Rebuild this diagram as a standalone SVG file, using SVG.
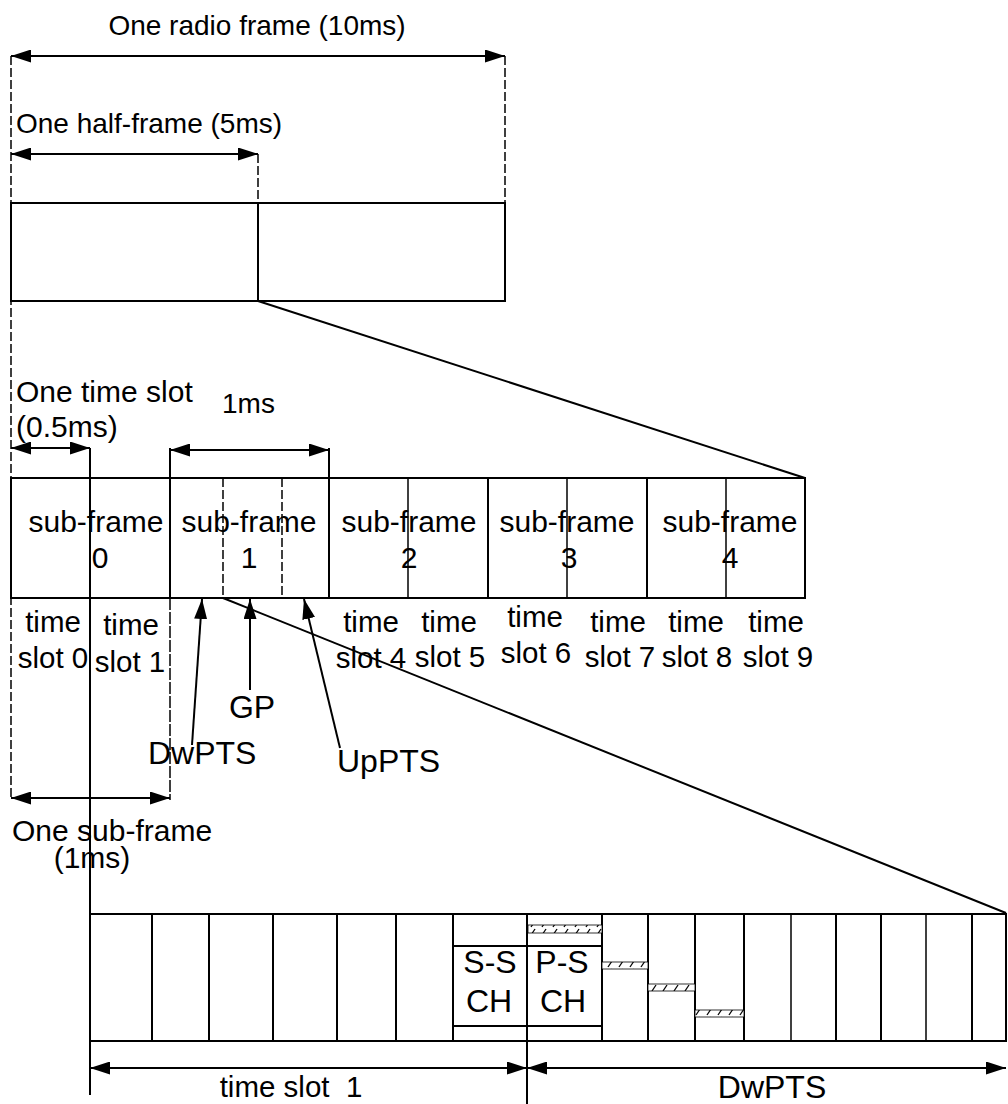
<svg xmlns="http://www.w3.org/2000/svg" width="1008" height="1104" viewBox="0 0 1008 1104">
<style>
  text { font-family: "Liberation Sans", Arial, sans-serif; font-size: 28px; fill: #000; }
  .c { text-anchor: middle; }
  .f30 { font-size: 30px; }
  .f29 { font-size: 29.5px; }
  .f32 { font-size: 32px; }
  .ln { stroke: #000; stroke-width: 2; fill: none; }
  .thin { stroke: #000; stroke-width: 1.5; fill: none; }
  .dash { stroke: #000; stroke-width: 1.5; fill: none; stroke-dasharray: 9 3; }
  .dim { stroke: #000; stroke-width: 2; fill: none; marker-start: url(#ah); marker-end: url(#ah); }
  .ptr { stroke: #000; stroke-width: 2; fill: none; marker-end: url(#ah); }
  .box { stroke: #000; stroke-width: 2; fill: #fff; }
  .hatch { stroke: #000; stroke-width: 0.8; fill: url(#hp); }
</style>
<defs>
  <marker id="ah" viewBox="0 0 20 13" refX="20" refY="6.5" markerWidth="20" markerHeight="13" markerUnits="userSpaceOnUse" orient="auto-start-reverse">
    <path d="M0,0 L20,6.5 L0,13 Z" fill="#000"/>
  </marker>
  <pattern id="hp" width="11" height="8" patternUnits="userSpaceOnUse">
    <rect width="11" height="8" fill="#fff"/>
    <path d="M3,7 L7,1" stroke="#000" stroke-width="1.3"/>
  </pattern>
</defs>

<!-- Radio frame -->
<g id="radio-frame">
  <rect class="box" x="11" y="203" width="494" height="98"/>
  <line class="ln" x1="258" y1="203" x2="258" y2="301"/>
</g>

<!-- Sub-frame row -->
<g id="subframe-row">
  <rect class="box" x="11" y="478" width="794" height="120"/>
  <line class="ln" x1="170" y1="478" x2="170" y2="598"/>
  <line class="ln" x1="329" y1="478" x2="329" y2="598"/>
  <line class="ln" x1="488" y1="478" x2="488" y2="598"/>
  <line class="ln" x1="647" y1="478" x2="647" y2="598"/>
  <line class="thin" x1="408" y1="478" x2="408" y2="598"/>
  <line class="thin" x1="567" y1="478" x2="567" y2="598"/>
  <line class="thin" x1="726" y1="478" x2="726" y2="598"/>
  <line class="dash" x1="223" y1="478" x2="223" y2="598"/>
  <line class="dash" x1="282" y1="478" x2="282" y2="598"/>
</g>

<g id="subframe-labels" class="f30">
  <text class="c f30" x="96" y="532">sub-frame</text><text class="c f30" x="100" y="568">0</text>
  <text class="c f30" x="249" y="532">sub-frame</text><text class="c f30" x="249" y="568">1</text>
  <text class="c f30" x="409" y="532">sub-frame</text><text class="c f30" x="409" y="568">2</text>
  <text class="c f30" x="567" y="532">sub-frame</text><text class="c f30" x="569" y="568">3</text>
  <text class="c f30" x="730" y="532">sub-frame</text><text class="c f30" x="730" y="568">4</text>
</g>

<g id="timeslot-labels">
  <text class="c f29" x="53" y="632">time</text><text class="c f29" x="53" y="668">slot 0</text>
  <text class="c f29" x="131" y="635">time</text><text class="c f29" x="130" y="672">slot 1</text>
  <text class="c f29" x="371" y="632">time</text><text class="c f29" x="371" y="668">slot 4</text>
  <text class="c f29" x="449" y="632">time</text><text class="c f29" x="450" y="667">slot 5</text>
  <text class="c f29" x="535" y="627">time</text><text class="c f29" x="536" y="663">slot 6</text>
  <text class="c f29" x="618" y="632">time</text><text class="c f29" x="620" y="667">slot 7</text>
  <text class="c f29" x="696" y="632">time</text><text class="c f29" x="697" y="667">slot 8</text>
  <text class="c f29" x="776" y="632">time</text><text class="c f29" x="778" y="667">slot 9</text>
</g>

<!-- Time slot 1 expanded row -->
<g id="slot-row">
  <rect class="box" x="90" y="914" width="916" height="127"/>
  <line class="ln" x1="152" y1="914" x2="152" y2="1041"/>
  <line class="ln" x1="209" y1="914" x2="209" y2="1041"/>
  <line class="ln" x1="273" y1="914" x2="273" y2="1041"/>
  <line class="ln" x1="337" y1="914" x2="337" y2="1041"/>
  <line class="ln" x1="396" y1="914" x2="396" y2="1041"/>
  <line class="ln" x1="453" y1="914" x2="453" y2="1041"/>
  <line class="ln" x1="602" y1="914" x2="602" y2="1041"/>
  <line class="ln" x1="648" y1="914" x2="648" y2="1041"/>
  <line class="ln" x1="695" y1="914" x2="695" y2="1041"/>
  <line class="ln" x1="744" y1="914" x2="744" y2="1041"/>
  <line class="thin" x1="791" y1="914" x2="791" y2="1041"/>
  <line class="ln" x1="836" y1="914" x2="836" y2="1041"/>
  <line class="ln" x1="881" y1="914" x2="881" y2="1041"/>
  <line class="thin" x1="926" y1="914" x2="926" y2="1041"/>
  <line class="ln" x1="972" y1="914" x2="972" y2="1041"/>
</g>

<g id="sch">
  <rect class="box" x="453" y="946" width="149" height="80"/>
  <text class="c f32" x="490" y="973">S-S</text><text class="c f32" x="489" y="1012">CH</text>
  <text class="c f32" x="562" y="973">P-S</text><text class="c f32" x="563" y="1012">CH</text>
</g>

<g id="hatched">
  <rect class="hatch" x="528" y="925" width="74" height="8"/>
  <rect class="hatch" x="602" y="962" width="46" height="7"/>
  <rect class="hatch" x="648" y="984" width="47" height="7"/>
  <rect class="hatch" x="695" y="1010" width="49" height="7"/>
</g>

<g id="connectors">
  <line class="dash" x1="11" y1="56" x2="11" y2="800"/>
  <line class="dash" x1="505" y1="56" x2="505" y2="203"/>
  <line class="dash" x1="258" y1="154" x2="258" y2="203"/>
  <line class="ln" x1="170" y1="448" x2="170" y2="478"/>
  <line class="dash" x1="170" y1="598" x2="170" y2="800" style="stroke-dasharray:12 2"/>
  <line class="ln" x1="329" y1="448" x2="329" y2="478"/>
  <line class="ln" x1="90" y1="448" x2="90" y2="1095"/>
  <line class="ln" x1="527" y1="914" x2="527" y2="1104"/>
  <line class="ln" x1="258" y1="301" x2="805" y2="478"/>
  <line class="ln" x1="223" y1="598" x2="1006" y2="913"/>
  <line class="dim" x1="11" y1="56" x2="505" y2="56"/>
  <line class="dim" x1="11" y1="154" x2="258" y2="154"/>
  <line class="dim" x1="11" y1="448" x2="90" y2="448"/>
  <line class="dim" x1="170" y1="450" x2="329" y2="450"/>
  <line class="dim" x1="11" y1="798" x2="170" y2="798"/>
  <line class="dim" x1="90" y1="1068" x2="527" y2="1068"/>
  <line class="dim" x1="527" y1="1068" x2="1006" y2="1068"/>
  <line class="ptr" x1="192" y1="745" x2="202" y2="599"/>
  <line class="ptr" x1="250" y1="690" x2="250" y2="599"/>
  <line class="ptr" x1="340" y1="748" x2="304" y2="599"/>
</g>

<g id="labels">
  <text class="c" x="257" y="35">One radio frame (10ms)</text>
  <text x="16" y="133">One half-frame (5ms)</text>
  <text class="f30" x="16" y="402">One time slot</text>
  <text class="f30" x="16" y="437">(0.5ms)</text>
  <text x="222" y="413">1ms</text>
  <text class="c f32" x="252" y="718">GP</text>
  <text class="f32" x="148" y="764">DwPTS</text>
  <text class="f32" x="337" y="772">UpPTS</text>
  <text class="f30" x="12" y="841">One sub-frame</text>
  <text class="c f30" x="92" y="868">(1ms)</text>
  <text class="c f29" x="291" y="1097" xml:space="preserve">time slot  1</text>
  <text class="c f32" x="772" y="1098">DwPTS</text>
</g>
</svg>
